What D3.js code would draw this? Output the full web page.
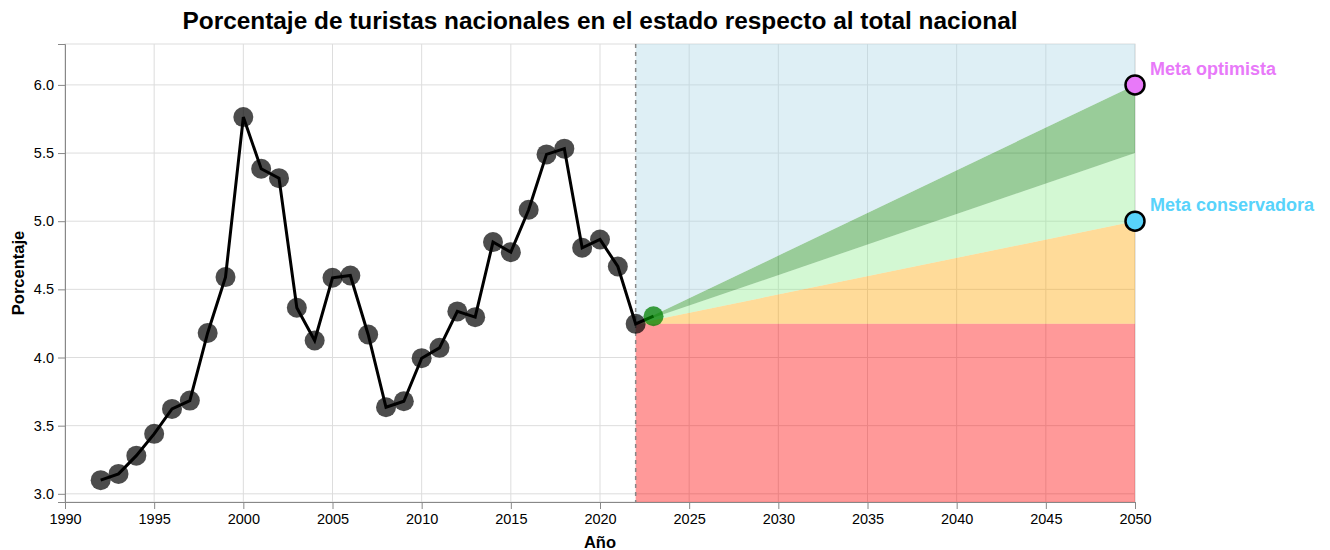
<!DOCTYPE html>
<html>
<head>
<meta charset="utf-8">
<script src="https://cdn.jsdelivr.net/npm/d3@7"></script>
<style>
  body { margin: 0; background: #fff; }
  text { font-family: "Liberation Sans", Arial, sans-serif; }
</style>
</head>
<body>
<div id="chart"></div>
<script>
// Observed series
const years = [1992, 1993, 1994, 1995, 1996, 1997, 1998, 1999, 2000, 2001,
               2002, 2003, 2004, 2005, 2006, 2007, 2008, 2009, 2010, 2011,
               2012, 2013, 2014, 2015, 2016, 2017, 2018, 2019, 2020, 2021, 2022];
const porcentaje = [3.10, 3.146, 3.28, 3.44, 3.623, 3.684, 4.18, 4.59, 5.764, 5.385,
                    5.316, 4.365, 4.125, 4.585, 4.602, 4.169, 3.635, 3.679, 3.995, 4.071,
                    4.338, 4.296, 4.847, 4.773, 5.084, 5.49, 5.532, 4.805, 4.866, 4.668, 4.247];

// Projection for next year
const projYear = 2023;
const projValue = 4.303;

// Scenario wedges from the last observed year to the goal year
const startYear = 2022;
const goalYear = 2050;
const wedgeLimits = [4.247, 5.0, 5.5, 6.0];
const wedgeColors = ["orange", "lightgreen", "green"];

// Labelled goals
const goalNames = ["Meta optimista", "Meta conservadora"];
const goalValues = [6.0, 5.0];
const goalColors = ["#e879f9", "#58d3fb"];

// Axis ticks
const xTicks = [1990, 1995, 2000, 2005, 2010, 2015, 2020, 2025, 2030, 2035, 2040, 2045, 2050];
const yTicks = [3.0, 3.5, 4.0, 4.5, 5.0, 5.5, 6.0];
const yDomain = [2.94, 6.3];

const width = 1330, height = 550;
const margin = {left: 65, right: 195, top: 44, bottom: 48};
const plotW = width - margin.left - margin.right;
const plotH = height - margin.top - margin.bottom;

const svg = d3.select("#chart").append("svg")
    .attr("width", width)
    .attr("height", height);

const g = svg.append("g").attr("transform", `translate(${margin.left},${margin.top})`);

const x = d3.scaleLinear().domain([1990, 2050]).range([0, plotW]);
const y = d3.scaleLinear().domain(yDomain).range([plotH, 0]);

// Grid
g.append("g").selectAll("line.gx")
    .data(xTicks).enter().append("line")
    .attr("x1", d => x(d)).attr("x2", d => x(d))
    .attr("y1", 0).attr("y2", plotH)
    .attr("stroke", "#ddd");
g.append("g").selectAll("line.gy")
    .data(yTicks).enter().append("line")
    .attr("x1", 0).attr("x2", plotW)
    .attr("y1", d => y(d)).attr("y2", d => y(d))
    .attr("stroke", "#ddd");
g.append("rect")
    .attr("width", plotW).attr("height", plotH)
    .attr("fill", "none").attr("stroke", "#ddd");

// Regions after the last observed year
const band = d3.area()
    .x(d => x(d.year))
    .y0(d => y(d.lo))
    .y1(d => y(d.hi));

const base = wedgeLimits[0];
const bands = [{lo: yDomain[0], hi0: base, hi1: base, loEnd: yDomain[0], color: "red"}];
for (let i = 0; i < wedgeColors.length; i++) {
    bands.push({lo: base, hi0: base, loEnd: wedgeLimits[i], hi1: wedgeLimits[i + 1], color: wedgeColors[i]});
}
bands.push({lo: base, hi0: yDomain[1], loEnd: wedgeLimits[wedgeLimits.length - 1], hi1: yDomain[1], color: "lightblue"});

g.selectAll("path.band")
    .data(bands).enter().append("path")
    .attr("class", "band")
    .attr("d", b => band([
        {year: startYear, lo: b.lo, hi: b.hi0},
        {year: goalYear, lo: b.loEnd, hi: b.hi1}
    ]))
    .attr("fill", b => b.color)
    .attr("fill-opacity", 0.4);

// Divider at the last observed year
g.append("line")
    .attr("x1", x(startYear)).attr("x2", x(startYear))
    .attr("y1", 0).attr("y2", plotH)
    .attr("stroke", "#888")
    .attr("stroke-width", 1.5)
    .attr("stroke-dasharray", "4,4");

// Axes
const xAxis = g.append("g")
    .attr("transform", `translate(0,${plotH})`)
    .call(d3.axisBottom(x).tickValues(xTicks).tickFormat(d3.format("d")).tickSize(7).tickPadding(5));
const yAxis = g.append("g")
    .call(d3.axisLeft(y).tickValues(yTicks).tickFormat(d3.format(".1f")).tickSize(7).tickPadding(4));
[xAxis, yAxis].forEach(a => {
    a.selectAll("path, line").attr("stroke", "#888");
    a.selectAll("text").attr("font-size", 14.5).attr("fill", "#000")
        .style("font-family", "'Liberation Sans', Arial, sans-serif");
});

// Observed points and line
const series = years.map((yr, i) => ({year: yr, value: porcentaje[i]}));
g.selectAll("circle.obs")
    .data(series).enter().append("circle")
    .attr("cx", d => x(d.year))
    .attr("cy", d => y(d.value))
    .attr("r", 10)
    .attr("fill", "black")
    .attr("fill-opacity", 0.7);

const line = d3.line().x(d => x(d.year)).y(d => y(d.value));
g.append("path")
    .attr("d", line(series.concat([{year: projYear, value: projValue}])))
    .attr("fill", "none")
    .attr("stroke", "black")
    .attr("stroke-width", 3);

g.append("circle")
    .attr("cx", x(projYear))
    .attr("cy", y(projValue))
    .attr("r", 10)
    .attr("fill", "green")
    .attr("fill-opacity", 0.75);

// Goals
g.selectAll("circle.goal")
    .data(goalValues).enter().append("circle")
    .attr("cx", x(goalYear))
    .attr("cy", d => y(d))
    .attr("r", 9.5)
    .attr("fill", (d, i) => goalColors[i])
    .attr("stroke", "black")
    .attr("stroke-width", 2.5);

g.selectAll("text.goal")
    .data(goalValues).enter().append("text")
    .attr("x", x(goalYear) + 15)
    .attr("y", d => y(d) - 10)
    .attr("font-size", 18)
    .attr("font-weight", "bold")
    .attr("fill", (d, i) => goalColors[i])
    .text((d, i) => goalNames[i]);

// Titles
svg.append("text")
    .attr("x", margin.left + plotW / 2)
    .attr("y", 29)
    .attr("text-anchor", "middle")
    .attr("font-size", 24.4)
    .attr("font-weight", "bold")
    .text("Porcentaje de turistas nacionales en el estado respecto al total nacional");

svg.append("text")
    .attr("x", margin.left + plotW / 2)
    .attr("y", 548)
    .attr("text-anchor", "middle")
    .attr("font-size", 16.5)
    .attr("font-weight", "bold")
    .text("Año");

svg.append("text")
    .attr("transform", `translate(24,${margin.top + plotH / 2}) rotate(-90)`)
    .attr("text-anchor", "middle")
    .attr("font-size", 16.5)
    .attr("font-weight", "bold")
    .text("Porcentaje");
</script>
</body>
</html>
